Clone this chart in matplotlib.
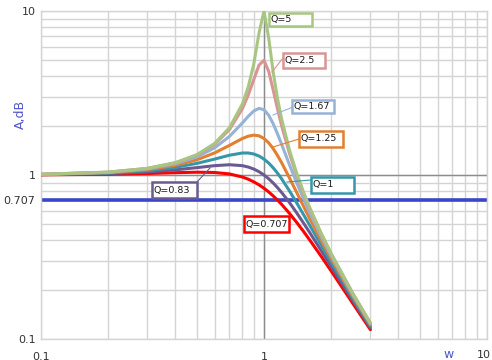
import matplotlib
matplotlib.use("Agg")
import matplotlib.pyplot as plt
from matplotlib.patches import Rectangle
from matplotlib.lines import Line2D
from matplotlib.ticker import LogLocator, NullFormatter

# ---- data ----
w = [0.1, 0.2, 0.3, 0.4, 0.5, 0.6, 0.7, 0.8, 0.85, 0.9, 0.95, 1.0, 1.05, 1.1,
     1.15, 1.2, 1.3, 1.4, 1.5, 1.6, 1.8, 2.0, 2.5, 3.0]

q_labels = ["Q=0.707", "Q=0.83", "Q=1", "Q=1.25", "Q=1.67", "Q=2.5", "Q=5"]

a_q0707 = [1.003, 1.010, 1.021, 1.033, 1.040, 1.036, 1.015, 0.972, 0.943, 0.908,
           0.871, 0.830, 0.788, 0.745, 0.703, 0.662, 0.584, 0.515, 0.455, 0.403,
           0.321, 0.260, 0.165, 0.114]
a_q083 = [1.005, 1.020, 1.044, 1.075, 1.109, 1.140, 1.155, 1.140, 1.118, 1.087,
          1.047, 1.000, 0.948, 0.893, 0.837, 0.782, 0.680, 0.589, 0.512, 0.448,
          0.348, 0.277, 0.172, 0.117]
a_q1 = [1.007, 1.028, 1.063, 1.113, 1.177, 1.250, 1.320, 1.362, 1.362, 1.343,
        1.305, 1.250, 1.182, 1.105, 1.026, 0.947, 0.801, 0.678, 0.577, 0.496,
        0.376, 0.294, 0.178, 0.120]
a_q125 = [1.008, 1.034, 1.078, 1.145, 1.238, 1.363, 1.515, 1.669, 1.725, 1.750,
          1.733, 1.670, 1.570, 1.447, 1.315, 1.187, 0.961, 0.785, 0.650, 0.546,
          0.402, 0.310, 0.183, 0.122]
a_q167 = [1.009, 1.038, 1.090, 1.170, 1.288, 1.463, 1.719, 2.076, 2.279, 2.457,
          2.549, 2.500, 2.313, 2.051, 1.780, 1.536, 1.157, 0.900, 0.721, 0.593,
          0.425, 0.322, 0.187, 0.124]
a_q25 = [1.010, 1.041, 1.097, 1.185, 1.322, 1.536, 1.891, 2.538, 3.073, 3.821,
         4.683, 5.000, 4.279, 3.288, 2.525, 1.995, 1.356, 1.000, 0.778, 0.628,
         0.441, 0.330, 0.190, 0.125]
a_q5 = [1.010, 1.041, 1.098, 1.189, 1.330, 1.556, 1.943, 2.712, 3.446, 4.757,
        7.346, 10.00, 6.815, 4.218, 2.921, 2.193, 1.424, 1.031, 0.794, 0.638,
        0.445, 0.333, 0.190, 0.125]

series = [a_q0707, a_q083, a_q1, a_q125, a_q167, a_q25, a_q5]
colors = ["#FF0000", "#6B5A92", "#3797A8", "#E37F2F", "#95B3D7", "#D99594", "#A8C682"]

ref_level = 0.707
x_ticks = [0.1, 1, 10]
x_ticklabels = ["0.1", "1", ""]
x_last_label = "10"
y_ticks = [0.1, 0.707, 1, 10]
y_ticklabels = ["0.1", "0.707", "1", "10"]

# ---- figure ----
W, H = 492, 360
fig = plt.figure(figsize=(W / 100, H / 100), dpi=100)
L, R, T, B = 41, 487, 11, 339
ax = fig.add_axes([L / W, (H - B) / H, (R - L) / W, (B - T) / H])
ax.set_xscale("log")
ax.set_yscale("log")
ax.set_xlim(0.1, 10)
ax.set_ylim(0.1, 10)

ax.xaxis.set_minor_locator(LogLocator(base=10, subs=range(2, 10)))
ax.yaxis.set_minor_locator(LogLocator(base=10, subs=range(2, 10)))
ax.xaxis.set_minor_formatter(NullFormatter())
ax.yaxis.set_minor_formatter(NullFormatter())
ax.grid(which="both", color="#D4D4D4", linewidth=1.0, zorder=0)
ax.set_axisbelow(True)

ax.set_xticks(x_ticks)
ax.set_xticklabels(x_ticklabels)
ax.set_yticks(y_ticks)
ax.set_yticklabels(y_ticklabels)
ax.tick_params(which="both", length=0)
ax.tick_params(axis="x", pad=9, labelsize=8, labelcolor="#333333")
ax.tick_params(axis="y", pad=4, labelsize=8, labelcolor="#333333")
for s in ax.spines.values():
    s.set_color("#D4D4D4")
    s.set_linewidth(1.0)
fig.text(491 / W, 1 - 355 / H, x_last_label, fontsize=8, color="#333333",
         ha="right", va="center")

# axis-crossing lines
ax.axvline(1, color="#8C8C8C", linewidth=1.0, zorder=1)
ax.axhline(1, color="#8C8C8C", linewidth=1.0, zorder=1)

# reference level
ax.axhline(ref_level, color="#3C46C8", linewidth=2.6, zorder=2)

for ys, c in zip(series, colors):
    ax.plot(w, ys, color=c, linewidth=2.2, solid_capstyle="round",
            solid_joinstyle="round", zorder=3)

ax.set_ylabel("A,dB", color="#4F55CC", fontsize=9, labelpad=-2)
ax.yaxis.set_label_coords((27 - L) / (R - L), (B - 114) / (B - T))
fig.text(449 / W, 1 - 355 / H, "w", color="#4F55CC", fontsize=9,
         ha="center", va="center")

# ---- label boxes (pixel positions) ----
def fx(px):
    return (px - L) / (R - L)

def fy(py):
    return (B - py) / (B - T)

boxes = {
    "Q=5":     (269, 13, 312, 26),
    "Q=2.5":   (283, 53, 325, 68),
    "Q=1.67":  (292, 100, 334, 113),
    "Q=1.25":  (299, 131, 343, 147),
    "Q=1":     (311, 177, 354, 193),
    "Q=0.83":  (152, 182, 197, 198),
    "Q=0.707": (244, 216, 289, 232),
}
leaders = {
    "Q=2.5": ((283, 58), (272, 72)),
    "Q=1.67": ((293, 107), (273, 115)),
    "Q=1.25": ((299, 139), (273, 147)),
    "Q=1": ((311, 180), (287, 182)),
    "Q=0.83": ((197, 182), (210, 168)),
}
for lab, c in zip(q_labels, colors):
    x0, y0, x1, y1 = boxes[lab]
    if lab in leaders:
        (ax0, ay0), (ax1, ay1) = leaders[lab]
        ax.add_line(Line2D([fx(ax0), fx(ax1)], [fy(ay0), fy(ay1)],
                           transform=ax.transAxes, color=c, linewidth=0.8,
                           zorder=4, clip_on=False))
    rect = Rectangle((fx(x0), fy(y1)), fx(x1) - fx(x0), fy(y0) - fy(y1),
                     transform=ax.transAxes, facecolor="white", edgecolor=c,
                     linewidth=1.8, zorder=5, clip_on=False)
    ax.add_patch(rect)
    ax.text(fx(x0 + 1.5), (fy(y0) + fy(y1)) / 2, lab, transform=ax.transAxes,
            ha="left", va="center", fontsize=6.8, color="#1A1A1A", zorder=6)

fig.savefig("out.png", dpi=100)
